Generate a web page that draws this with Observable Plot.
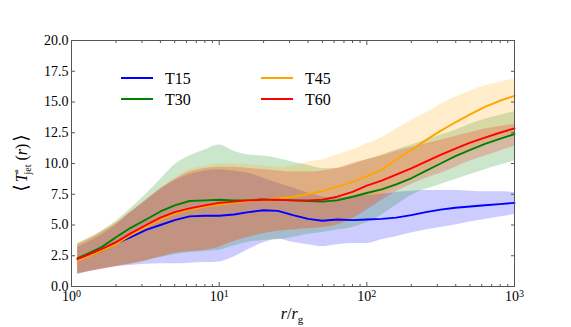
<!DOCTYPE html>
<html><head><meta charset="utf-8">
<script src="https://cdn.jsdelivr.net/npm/d3@7"></script>
<script src="https://cdn.jsdelivr.net/npm/@observablehq/plot@0.6"></script>
<style>body{margin:0;background:#fff} svg text{font-family:"Liberation Serif","DejaVu Serif","Times New Roman","Noto Serif",serif !important;}</style>
</head><body><div id="chart"></div>
<script>
// radius r / r_g
const r = [1.1,1.3,1.6,2,2.5,3.2,4,5,6.3,8,10,12.6,15.8,20,25,31.6,40,50,63,80,100,126,158,200,251,316,398,501,631,794,1000];

const t15Mean = [2.2,2.5,2.9,3.5,4.0,4.6,5.0,5.4,5.7,5.75,5.75,5.85,6.05,6.2,6.15,5.8,5.5,5.35,5.45,5.4,5.45,5.5,5.6,5.8,6.05,6.25,6.4,6.5,6.6,6.7,6.8];
const t15Lo   = [1.0,1.2,1.4,1.6,1.7,1.8,1.85,1.85,1.9,1.95,2.0,2.4,3.0,3.55,3.85,3.6,3.4,3.25,3.4,3.5,3.5,3.8,4.05,4.35,4.6,4.8,5.0,5.25,5.45,5.65,5.85];
const t15Hi   = [3.2,3.6,4.2,5.0,6.0,7.0,7.9,8.6,9.1,9.4,9.5,9.4,9.2,8.8,8.4,8.0,7.6,7.3,7.2,7.3,7.4,7.5,7.65,7.75,7.8,7.8,7.8,7.75,7.7,7.7,7.65];

const t30Mean = [2.3,2.7,3.2,4.0,4.75,5.45,6.1,6.6,6.95,7.0,7.05,7.0,7.0,7.1,7.05,7.0,6.95,6.9,7.0,7.3,7.6,7.9,8.3,8.8,9.4,10.0,10.6,11.1,11.6,12.0,12.4];
const t30Lo   = [1.05,1.25,1.45,1.65,1.85,2.1,2.35,2.6,2.75,2.85,2.95,3.3,3.6,3.75,3.8,4.0,4.25,4.4,4.6,4.8,5.2,5.8,6.6,7.4,7.9,8.3,8.7,9.1,9.5,9.85,10.2];
const t30Hi   = [3.5,3.9,4.5,5.3,6.3,7.5,8.7,9.9,10.6,11.1,11.5,11.0,10.7,10.6,10.4,10.1,9.85,9.6,9.6,9.9,10.3,10.7,11.1,11.5,11.9,12.3,12.7,13.2,13.6,13.9,14.2];

const t45Mean = [2.1,2.45,2.9,3.45,4.15,4.85,5.45,5.9,6.25,6.5,6.65,6.8,6.95,7.05,7.15,7.3,7.5,7.75,8.1,8.5,8.95,9.5,10.3,11.1,11.9,12.65,13.35,14.0,14.6,15.1,15.5];
const t45Lo   = [1.0,1.2,1.4,1.6,1.8,2.1,2.4,2.7,2.85,2.95,3.2,3.65,4.0,4.3,4.5,4.6,4.7,4.8,5.0,5.6,6.4,7.3,8.1,8.8,9.5,10.1,10.7,11.2,11.7,12.1,12.5];
const t45Hi   = [3.5,3.9,4.5,5.2,6.1,7.1,8.0,8.8,9.5,9.8,9.95,10.0,9.9,9.8,9.7,9.8,10.1,10.3,10.7,11.1,11.6,12.1,12.8,13.5,14.1,14.8,15.4,15.9,16.3,16.6,16.85];

const t60Mean = [2.25,2.6,3.05,3.6,4.3,5.0,5.6,6.05,6.35,6.6,6.8,6.9,7.0,7.05,7.05,7.0,7.0,7.05,7.3,7.7,8.2,8.6,9.1,9.6,10.15,10.7,11.2,11.7,12.1,12.5,12.85];
const t60Lo   = [1.0,1.2,1.4,1.6,1.8,2.1,2.4,2.7,2.85,2.95,3.2,3.65,4.0,4.3,4.5,4.6,4.7,4.8,5.0,5.5,6.2,7.0,7.7,8.3,8.8,9.2,9.7,10.2,10.6,11.0,11.4];
const t60Hi   = [3.4,3.8,4.4,5.1,6.0,7.0,7.9,8.7,9.3,9.6,9.7,9.7,9.6,9.5,9.4,9.3,9.3,9.4,9.6,10.0,10.3,10.6,11.0,11.3,11.6,11.9,12.2,12.5,12.8,13.0,13.2];

const seriesNames = ["T15","T30","T45","T60"];
const seriesColors = ["#0000ff","#008000","#ffa500","#ff0000"];
const xMajor = [1,10,100,1000];
const yTicks = [0,2.5,5,7.5,10,12.5,15,17.5,20];

const table = [
  [t15Mean,t15Lo,t15Hi],[t30Mean,t30Lo,t30Hi],[t45Mean,t45Lo,t45Hi],[t60Mean,t60Lo,t60Hi]
].map(([m,lo,hi],k) => r.map((x,i) => ({r:x, mean:m[i], lo:lo[i], hi:hi[i], s:seriesNames[k]})));

const xMinor = [];
for (const d of [1,10,100]) for (let k=2;k<=9;k++) xMinor.push(d*k);

const serif = "Liberation Serif, DejaVu Serif, Times New Roman, Noto Serif, serif";
const gray = "#555";

const marks = [];
table.forEach((rows,k) => {
  marks.push(Plot.areaY(rows,{x:"r", y1:"lo", y2:"hi", fill:seriesColors[k], fillOpacity:0.2, curve:"monotone-x"}));
});
table.forEach((rows,k) => {
  marks.push(Plot.lineY(rows,{x:"r", y:"mean", stroke:seriesColors[k], strokeWidth:1.9}));
});
marks.push(
  Plot.frame({stroke:gray}),
  Plot.axisX({ticks:xMajor, tickSize:-4, tickFormat:()=>"", stroke:gray, label:null}),
  Plot.axisX({ticks:xMinor, tickSize:-2, tickFormat:()=>"", stroke:gray, label:null}),
  Plot.axisX({anchor:"top", ticks:xMajor, tickSize:-4, tickFormat:()=>"", stroke:gray, label:null}),
  Plot.axisX({anchor:"top", ticks:xMinor, tickSize:-2, tickFormat:()=>"", stroke:gray, label:null}),
  Plot.axisX({ticks:xMajor, tickSize:0, tickPadding:5, tickFormat:d=>"10^"+Math.round(Math.log10(d)), label:null}),
  Plot.axisY({ticks:yTicks, tickSize:-4, tickFormat:()=>"", stroke:gray, label:null}),
  Plot.axisY({anchor:"right", ticks:yTicks, tickSize:-4, tickFormat:()=>"", stroke:gray, label:null}),
  Plot.axisY({ticks:yTicks, tickSize:0, tickPadding:3, tickFormat:d3.format(".1f"), label:null})
);

const svgNode = Plot.plot({
  width:571, height:327,
  marginLeft:71, marginRight:57, marginTop:40, marginBottom:41,
  style:{fontFamily:serif, fontSize:"14px", color:"#000", background:"#fff"},
  x:{type:"log", domain:[1,1000]},
  y:{domain:[0,20]},
  marks
});
document.getElementById("chart").appendChild(svgNode);
const svg = d3.select(svgNode);

// superscript exponents on x tick labels
svg.selectAll("text").each(function(){
  const t = this.textContent;
  if (/^10\^\d$/.test(t)) {
    const e = t.split("^")[1];
    const sel = d3.select(this);
    sel.text("10");
    sel.append("tspan").attr("dy","-0.45em").attr("font-size","10px").text(e);
  }
});

// legend
const leg = svg.append("g").attr("font-size",16).attr("text-anchor","start");
const legPos = [[121,78],[121,99],[261,78],[261,99]];
seriesNames.forEach((n,k)=>{
  const [lx,ly] = legPos[k];
  leg.append("line").attr("x1",lx).attr("x2",lx+32).attr("y1",ly).attr("y2",ly)
     .attr("stroke",seriesColors[k]).attr("stroke-width",2);
  leg.append("text").attr("x",lx+44).attr("y",ly).attr("dy","0.35em").text(n);
});

// x label
const xl = svg.append("text").attr("x",292).attr("y",319).attr("text-anchor","middle").attr("font-size",16);
xl.append("tspan").attr("font-style","italic").text("r");
xl.append("tspan").text("/");
xl.append("tspan").attr("font-style","italic").text("r");
xl.append("tspan").attr("dy",4).attr("font-size",11).text("g");

// y label
const yl = svg.append("text").attr("transform","translate(27,163) rotate(-90)").attr("text-anchor","middle").attr("font-size",16);
yl.append("tspan").attr("font-size",19).text("⟨");
yl.append("tspan").attr("font-style","italic").attr("dx",2).text("T");
yl.append("tspan").attr("dy",-7).attr("font-size",10).text("∘");
yl.append("tspan").attr("dy",11).attr("dx",-6).attr("font-size",10).text("jet");
yl.append("tspan").attr("dy",-4).attr("dx",4).text("(");
yl.append("tspan").attr("font-style","italic").text("r");
yl.append("tspan").text(")");
yl.append("tspan").attr("font-size",19).attr("dx",2).text("⟩");
</script>
</body></html>
